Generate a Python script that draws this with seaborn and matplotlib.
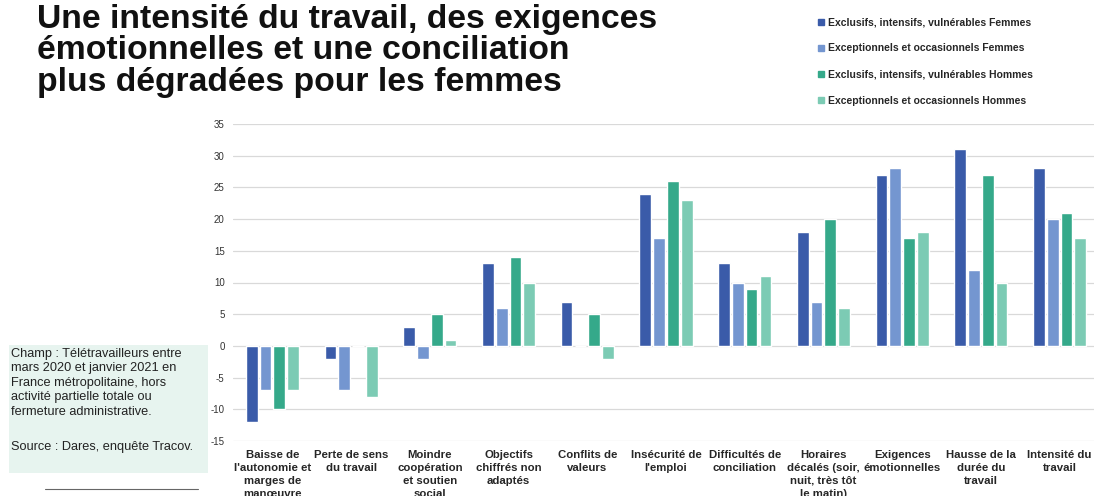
import pandas as pd
import matplotlib.pyplot as plt
import seaborn as sns
from matplotlib.patches import Rectangle
from matplotlib.lines import Line2D

# Données
categories = [
    "Baisse de\nl'autonomie et\nmarges de\nmanœuvre",
    "Perte de sens\ndu travail",
    "Moindre\ncoopération\net soutien\nsocial",
    "Objectifs\nchiffrés non\nadaptés",
    "Conflits de\nvaleurs",
    "Insécurité de\nl'emploi",
    "Difficultés de\nconciliation",
    "Horaires\ndécalés (soir,\nnuit, très tôt\nle matin)",
    "Exigences\némotionnelles",
    "Hausse de la\ndurée du\ntravail",
    "Intensité du\ntravail",
]
series_names = [
    "Exclusifs, intensifs, vulnérables Femmes",
    "Exceptionnels et occasionnels Femmes",
    "Exclusifs, intensifs, vulnérables Hommes",
    "Exceptionnels et occasionnels Hommes",
]
excl_femmes = [-12, -2, 3, 13, 7, 24, 13, 18, 27, 31, 28]
occ_femmes = [-7, -7, -2, 6, 0, 17, 10, 7, 28, 12, 20]
excl_hommes = [-10, 0, 5, 14, 5, 26, 9, 20, 17, 27, 21]
occ_hommes = [-7, -8, 1, 10, -2, 23, 11, 6, 18, 10, 17]

couleurs = ["#3a5ba9", "#7496d0", "#35a98a", "#7ccbb4"]

# Tableau long pour seaborn
lignes = []
for nom, vals in zip(series_names, [excl_femmes, occ_femmes, excl_hommes, occ_hommes]):
    for cat, v in zip(categories, vals):
        lignes.append({"cat": cat, "groupe": nom, "val": v})
df = pd.DataFrame(lignes)

sns.set_theme(style="white")
plt.rcParams["font.family"] = ["Liberation Sans", "DejaVu Sans"]
plt.rcParams["axes.unicode_minus"] = False

fig = plt.figure(figsize=(10.94, 4.96), dpi=100)
W, H = 1094, 496
ax = fig.add_axes([233 / W, 1 - 441 / H, 866 / W, 317 / H])

sns.barplot(data=df, x="cat", y="val", hue="groupe", order=categories,
            hue_order=series_names, palette=couleurs, saturation=1,
            width=0.7, gap=0.15, errorbar=None, ax=ax, zorder=3, legend=False)

ax.set_ylim(-15, 35)
ax.set_yticks(range(-15, 36, 5))
ax.yaxis.grid(True, color="#d9d9d9", linewidth=0.9, zorder=0)
ax.set_axisbelow(True)
for s in ax.spines.values():
    s.set_visible(False)
ax.set_xlabel("")
ax.set_ylabel("")
ax.tick_params(axis="y", length=0, pad=6, labelsize=7, labelcolor="#333333")
ax.tick_params(axis="x", length=0, pad=6.5)
for lab in ax.get_xticklabels():
    lab.set_fontsize(8.2)
    lab.set_fontweight("bold")
    lab.set_linespacing(1.37)
    lab.set_va("top")

# Titre
fig.text(37 / W, 1 - 4 / H,
         "Une intensité du travail, des exigences\némotionnelles et une conciliation\nplus dégradées pour les femmes",
         fontsize=24.3, fontweight="bold", va="top", ha="left", linespacing=1.02, color="#111111")

# Légende
handles = [Line2D([], [], marker="s", linestyle="", markersize=4.5, color=c) for c in couleurs]
fig.legend(handles, series_names, loc="upper left", bbox_to_anchor=(814 / W, 1 - 13 / H),
           frameon=False, prop={"size": 7.5, "weight": "bold"}, handlelength=0.6,
           handletextpad=0.3, labelspacing=1.55, borderaxespad=0)

# Encadré champ / source
fig.patches.append(Rectangle((9 / W, 1 - 473 / H), 199 / W, 128 / H,
                             transform=fig.transFigure, facecolor="#e7f4ef",
                             edgecolor="none", zorder=0))
fig.text(11 / W, 1 - 348 / H,
         "Champ : Télétravailleurs entre\nmars 2020 et janvier 2021 en\nFrance métropolitaine, hors\nactivité partielle totale ou\nfermeture administrative.",
         fontsize=9.2, va="top", ha="left", linespacing=1.27, color="#222222")
fig.text(11 / W, 1 - 447 / H, "Source : Dares, enquête Tracov.",
         fontsize=9.2, va="center", ha="left", color="#222222")
fig.lines.append(Line2D([45 / W, 198 / W], [1 - 489 / H, 1 - 489 / H],
                        transform=fig.transFigure, color="#666666", linewidth=0.8))

fig.savefig("out.png", dpi=100)
